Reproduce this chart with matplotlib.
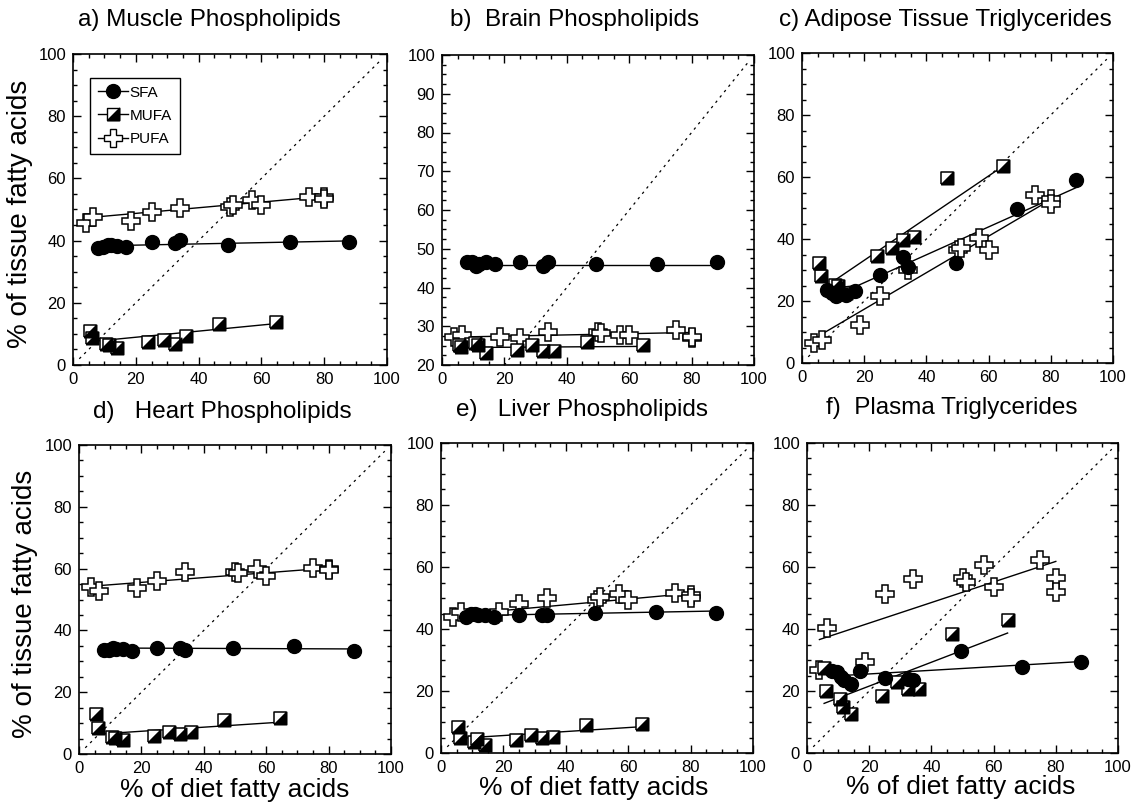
import matplotlib
matplotlib.use("Agg")
import matplotlib.pyplot as plt
from matplotlib.lines import Line2D
from matplotlib.ticker import MultipleLocator

plt.rcParams['font.family'] = ['Liberation Sans', 'DejaVu Sans']

# diet fatty acid levels (x), shared by all panels
sfa_x = [8, 9.5, 11, 12, 14, 17, 25, 32.5, 34, 49.5, 69, 88]
mufa_x = [5.5, 6, 10.5, 11.5, 14, 24, 29, 32.5, 36, 46.5, 64.5]
pufa_x = [4, 6.5, 18.5, 25, 34, 50, 51, 57, 60, 75, 80, 80]

# tissue values
muscle_sfa = [37.5, 37.8, 38.5, 38.5, 38.3, 37.8, 39.7, 39.1, 40.2, 38.6, 39.7, 39.7]
muscle_mufa = [10.8, 8.6, 6.7, 6.5, 5.4, 7.3, 8.1, 6.7, 9.2, 13.2, 13.8]
muscle_pufa = [45.5, 47.5, 46.4, 49.1, 50.4, 50.7, 51.3, 52.9, 51.3, 53.9, 53.9, 53.5]

brain_sfa = [46.5, 46.5, 45.5, 46, 46.5, 46, 46.5, 45.5, 46.5, 46, 46, 46.5]
brain_mufa = [25.2, 24.7, 25.6, 25.2, 23.0, 23.9, 25.2, 23.5, 23.5, 26.0, 25.2]
brain_pufa = [27.3, 27.8, 27.3, 26.9, 28.6, 28.6, 28.2, 27.8, 27.8, 29.1, 26.9, 27.2]

adipose_sfa = [23.7, 22.6, 21.7, 22.8, 22.0, 23.1, 28.5, 34.2, 31.0, 32.3, 49.7, 58.9]
adipose_mufa = [32.3, 28.2, 25.3, 24.7, 22.6, 34.4, 37.1, 39.8, 40.6, 59.8, 63.4]
adipose_pufa = [6.5, 7.5, 12.4, 21.5, 30.1, 36.6, 37.1, 40.3, 36.6, 54.3, 52.9, 51.4]

heart_sfa = [33.7, 33.7, 34.3, 34.0, 34.0, 33.2, 34.3, 34.3, 33.5, 34.3, 34.8, 33.2]
heart_mufa = [12.9, 8.4, 5.5, 5.2, 4.6, 5.7, 7.1, 6.5, 7.1, 10.9, 11.6]
heart_pufa = [54.0, 52.6, 53.7, 56.0, 59.0, 59.0, 58.5, 59.8, 57.7, 60.1, 59.8, 59.5]

liver_sfa = [43.9, 44.9, 45.0, 44.4, 44.4, 43.9, 44.4, 44.4, 44.4, 45.3, 45.5, 45.3]
liver_mufa = [8.4, 4.9, 3.5, 4.6, 2.5, 4.3, 5.7, 4.9, 5.2, 8.9, 9.5]
liver_pufa = [43.9, 45.5, 45.5, 48.2, 50.1, 49.5, 50.3, 51.2, 49.2, 51.6, 50.9, 50.1]

plasma_sfa = [26.5, 26.1, 24.5, 23.4, 22.2, 26.5, 24.3, 24.0, 23.4, 32.9, 27.7, 29.4]
plasma_mufa = [27.5, 20.0, 17.5, 15.0, 12.5, 18.5, 23.0, 20.5, 20.5, 38.5, 43.0]
plasma_pufa = [26.9, 40.4, 29.4, 51.4, 56.2, 56.5, 55.2, 60.5, 53.5, 62.4, 56.6, 51.9]

# fitted lines as drawn (x list, y list) for SFA, MUFA, PUFA
muscle_fits = [([8, 88], [38.3, 39.9]), ([5.5, 64.5], [7.5, 13.3]), ([4, 80], [47.3, 54.2])]
brain_fits = [([8, 88], [45.8, 45.8]), ([5.5, 64.5], [24.5, 24.8]), ([4, 80], [27.2, 28.4])]
adipose_fits = [([8, 18, 88], [24.0, 25.0, 56.5]), ([11, 64.5], [27.0, 63.4]), ([6, 80], [9.1, 52.7])]
heart_fits = [([8, 88], [34.3, 34.0]), ([5.5, 64.5], [6.4, 10.3]), ([4, 80], [54.3, 60.2])]
liver_fits = [([8, 88], [44.3, 45.8]), ([5.5, 64.5], [4.7, 8.5]), ([4, 80], [44.5, 51.5])]
plasma_fits = [([8, 88], [24.8, 29.5]), ([5.5, 64.5], [16.0, 38.7]), ([4, 80], [36.6, 61.8])]

diag = [2, 98]

titles = ["a) Muscle Phospholipids", "b)  Brain Phospholipids", "c) Adipose Tissue Triglycerides",
          "d)   Heart Phospholipids", "e)   Liver Phospholipids", "f)  Plasma Triglycerides"]

W, H = 1136, 809
fig = plt.figure(figsize=(W / 100, H / 100), dpi=100)

# axes boxes in pixels: left, top, right, bottom
boxes = [(73, 54, 387, 365), (442, 55, 754, 365), (802, 53, 1113, 363),
         (79, 445, 391, 754), (441, 443, 753, 753), (807, 443, 1118, 753)]
title_pos = [(209, 20), (575, 20), (945, 20), (222, 412), (582, 410), (952, 408)]

panels = [
    (muscle_sfa, muscle_mufa, muscle_pufa, muscle_fits),
    (brain_sfa, brain_mufa, brain_pufa, brain_fits),
    (adipose_sfa, adipose_mufa, adipose_pufa, adipose_fits),
    (heart_sfa, heart_mufa, heart_pufa, heart_fits),
    (liver_sfa, liver_mufa, liver_pufa, liver_fits),
    (plasma_sfa, plasma_mufa, plasma_pufa, plasma_fits),
]

sq = [(-1, -1), (1, -1), (1, 1), (-1, 1), (-1, -1)]
tri = [(-1, -1), (1, -1), (1, 1), (-1, -1)]

for i, (sfa, mufa, pufa, fits) in enumerate(panels):
    l, t, r, b = boxes[i]
    ax = fig.add_axes([l / W, 1 - b / H, (r - l) / W, (b - t) / H])

    ax.plot(diag, diag, color='black', lw=0.9, linestyle=(0, (2, 3.5)), zorder=1)
    for fx, fy in fits:
        ax.plot(fx, fy, color='black', lw=1.0, zorder=2)

    ax.plot(pufa_x, pufa, ls='none', marker='P', ms=13.5, mfc='white', mec='black', mew=1.1, zorder=3)
    ax.plot(mufa_x, mufa, ls='none', marker=sq, ms=9, mfc='white', mec='black', mew=1.1, zorder=4)
    ax.plot(mufa_x, mufa, ls='none', marker=tri, ms=9, mfc='black', mec='black', mew=1.1, zorder=4)
    ax.plot(sfa_x, sfa, ls='none', marker='o', ms=10, mfc='black', mec='black', zorder=5)

    ax.set_xlim(0, 100)
    ax.xaxis.set_major_locator(MultipleLocator(20))
    ax.xaxis.set_minor_locator(MultipleLocator(5))
    if i == 1:
        ax.set_ylim(20, 100)
        ax.yaxis.set_major_locator(MultipleLocator(10))
        ax.yaxis.set_minor_locator(MultipleLocator(2.5))
    else:
        ax.set_ylim(0, 100)
        ax.yaxis.set_major_locator(MultipleLocator(20))
        ax.yaxis.set_minor_locator(MultipleLocator(5))

    ax.tick_params(which='both', direction='in', top=True, right=True, width=1)
    ax.tick_params(which='major', length=6, labelsize=12, pad=5)
    ax.tick_params(which='minor', length=3)
    for s in ax.spines.values():
        s.set_linewidth(1.2)

    fig.text(title_pos[i][0] / W, 1 - title_pos[i][1] / H, titles[i],
             ha='center', va='center', fontsize=17.5)

    if i == 0:
        h_sfa = Line2D([], [], color='black', lw=1, marker='o', ms=10, mfc='black', mec='black')
        h_mufa = (Line2D([], [], color='black', lw=1, marker=sq, ms=9, mfc='white', mec='black'),
                  Line2D([], [], ls='none', marker=tri, ms=9, mfc='black', mec='black'))
        h_pufa = Line2D([], [], color='black', lw=1, marker='P', ms=12.5, mfc='white', mec='black')
        leg = ax.legend([h_sfa, h_mufa, h_pufa], ["SFA", "MUFA", "PUFA"],
                        loc='upper left', bbox_to_anchor=(0.054, 0.923), borderaxespad=0,
                        fontsize=11, handlelength=2.0, handletextpad=0.1,
                        labelspacing=0.6, borderpad=0.5, fancybox=False, framealpha=1)
        leg.get_frame().set_edgecolor('black')
        leg.get_frame().set_linewidth(1)

fig.text(20 / W, 1 - 214 / H, "% of tissue fatty acids", rotation=90,
         ha='center', va='center', fontsize=20)
fig.text(25 / W, 1 - 604 / H, "% of tissue fatty acids", rotation=90,
         ha='center', va='center', fontsize=20)
for xc, yc in [(235, 790), (594, 788), (961, 787)]:
    fig.text(xc / W, 1 - yc / H, "% of diet fatty acids", ha='center', va='center', fontsize=19)

fig.savefig("out.png", dpi=100, facecolor='white')
